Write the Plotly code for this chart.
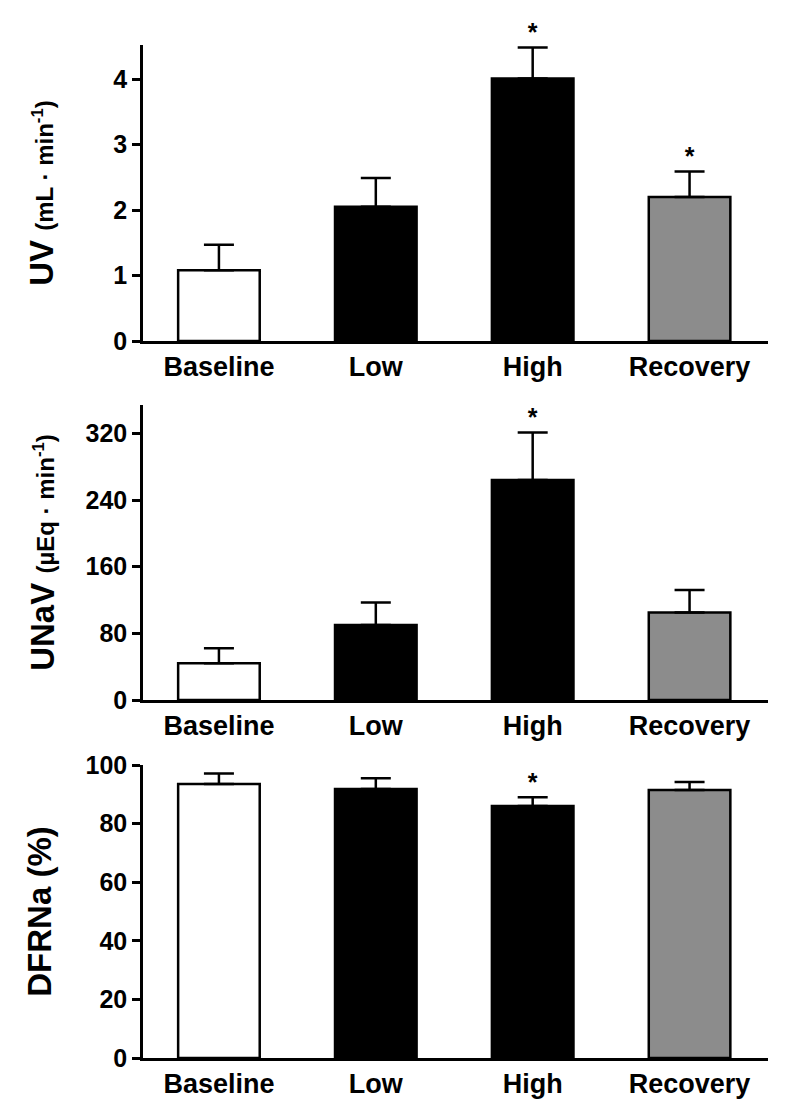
import plotly.graph_objects as go

categories = ["Baseline", "Low", "High", "Recovery"]

uv_mean = [1.08, 2.05, 4.01, 2.20]
uv_sem = [0.39, 0.44, 0.47, 0.39]
uv_star = [False, False, True, True]

unav_mean = [44, 90, 264, 105]
unav_sem = [18, 27, 57, 27]
unav_star = [False, False, True, False]

dfrna_mean = [93.5, 91.8, 86.0, 91.5]
dfrna_sem = [3.6, 3.7, 3.0, 2.7]
dfrna_star = [False, False, True, False]

uv_ticks = [0, 1, 2, 3, 4]
unav_ticks = [0, 80, 160, 240, 320]
dfrna_ticks = [0, 20, 40, 60, 80, 100]

bar_fill = ["white", "black", "black", "#8c8c8c"]
FONT = "Liberation Sans, Arial, sans-serif"

H = 1115.0
OFF = 8  # page body margin
X_DOMAIN = [(143 - OFF) / 800, (768 - OFF) / 800]


def ydom(bottom_px, top_px):
    return [(H - (bottom_px - OFF)) / H, (H - (top_px - OFF)) / H]


panels = [
    dict(mean=uv_mean, sem=uv_sem, star=uv_star, ticks=uv_ticks, rng=[0, 4.52],
         dom=ydom(341, 45), standoff=50,
         title="<b>UV</b> <b><span style='font-size:24px'>(mL · min<sup>-1</sup>)</span></b>"),
    dict(mean=unav_mean, sem=unav_sem, star=unav_star, ticks=unav_ticks, rng=[0, 354],
         dom=ydom(700, 405), standoff=21,
         title="<b>UNaV</b> <b><span style='font-size:24px'>(µEq · min<sup>-1</sup>)</span></b>"),
    dict(mean=dfrna_mean, sem=dfrna_sem, star=dfrna_star, ticks=dfrna_ticks, rng=[0, 100],
         dom=ydom(1058, 765), standoff=24,
         title="<b>DFRNa (%)</b>"),
]

fig = go.Figure()
layout = {}
for i, p in enumerate(panels):
    n = "" if i == 0 else str(i + 1)
    xa, ya = "x" + n, "y" + n
    fig.add_trace(go.Bar(
        x=categories, y=p["mean"], xaxis=xa, yaxis=ya, width=0.52,
        marker=dict(color=bar_fill, line=dict(color="black", width=2.5)),
        error_y=dict(type="data", array=p["sem"], arrayminus=[0] * 4, symmetric=False,
                     color="black", thickness=2.5, width=15),
        showlegend=False, hoverinfo="skip",
    ))
    sx = [c for c, s in zip(categories, p["star"]) if s]
    sy = [m + e for m, e, s in zip(p["mean"], p["sem"], p["star"]) if s]
    fig.add_trace(go.Scatter(
        x=sx, y=sy, xaxis=xa, yaxis=ya, mode="text", text=["<b>*</b>"] * len(sx),
        textposition="top center", textfont=dict(size=25, family=FONT, color="black"),
        cliponaxis=False, showlegend=False, hoverinfo="skip",
    ))
    layout["xaxis" + n] = dict(
        domain=X_DOMAIN, anchor=ya, type="category", range=[-0.484, 3.5],
        showline=True, linecolor="black", linewidth=2.5, ticks="",
        tickfont=dict(size=27, family=FONT, color="black"),
        tickvals=categories, ticktext=["<b>%s</b>" % c for c in categories],
        showgrid=False, zeroline=False, fixedrange=True, automargin=False,
    )
    layout["yaxis" + n] = dict(
        domain=p["dom"], anchor=xa, range=p["rng"],
        showline=True, linecolor="black", linewidth=2.5,
        ticks="outside", ticklen=8, tickwidth=2.5, tickcolor="black",
        tickvals=p["ticks"], ticktext=["<b>%s</b>" % t for t in p["ticks"]],
        tickfont=dict(size=25, family=FONT, color="black"),
        showgrid=False, zeroline=False, automargin=False,
        title=dict(text=p["title"], font=dict(size=33, family=FONT, color="black"),
                   standoff=p["standoff"]),
    )

fig.update_layout(
    width=800, height=1115, margin=dict(l=0, r=0, t=0, b=0),
    paper_bgcolor="white", plot_bgcolor="white",
    **layout,
)
fig.write_html("out.html")
